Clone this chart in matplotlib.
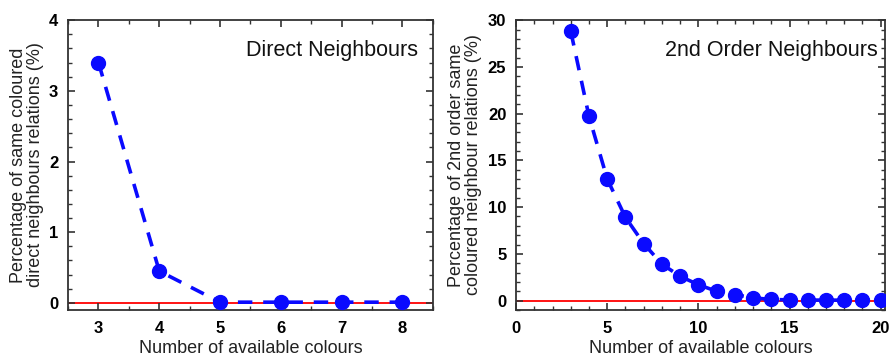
import matplotlib
matplotlib.use("Agg")
from matplotlib import pyplot as plt
from matplotlib.ticker import MultipleLocator

plt.rcParams['font.family'] = ['Liberation Sans', 'DejaVu Sans']

# direct neighbours
n_direct = [3, 4, 5, 6, 7, 8]
pct_direct = [3.40, 0.45, 0.01, 0.01, 0.01, 0.01]

# 2nd order neighbours
n_second = [3, 4, 5, 6, 7, 8, 9, 10, 11, 12, 13, 14, 15, 16, 17, 18, 19, 20]
pct_second = [28.8, 19.7, 13.0, 8.9, 6.1, 3.9, 2.6, 1.7, 1.0, 0.65, 0.3, 0.12,
              0.08, 0.06, 0.05, 0.05, 0.05, 0.05]

blue = '#0a0aff'

fig = plt.figure(figsize=(8.96, 3.6), dpi=100)
ax1 = fig.add_axes([0.076, 0.139, 0.407, 0.805])
ax2 = fig.add_axes([0.576, 0.139, 0.412, 0.805])


def style(ax):
    ax.tick_params(which='both', direction='in', top=True, right=True,
                   color='#333333', labelsize=12, pad=7)
    ax.tick_params(axis='x', which='both', pad=8)
    ax.tick_params(which='major', length=5, width=1.2)
    ax.tick_params(which='minor', length=3, width=1)
    for lab in ax.get_xticklabels() + ax.get_yticklabels():
        lab.set_fontweight('bold')
    for s in ax.spines.values():
        s.set_color('#333333')
        s.set_linewidth(1.3)
    ax.set_xlabel('Number of available colours', fontsize=13, color='#222222',
                  labelpad=3)


ax1.axhline(0, color='red', lw=1.3, zorder=1)
ax1.plot(n_direct, pct_direct, color=blue, lw=2.6, dashes=(4, 3),
         marker='o', ms=10, zorder=3)
ax1.set_xlim(2.5, 8.5)
ax1.set_ylim(-0.1, 4)
ax1.xaxis.set_major_locator(MultipleLocator(1))
ax1.xaxis.set_minor_locator(MultipleLocator(0.5))
ax1.yaxis.set_major_locator(MultipleLocator(1))
ax1.yaxis.set_minor_locator(MultipleLocator(0.2))
ax1.set_ylabel('Percentage of same coloured\ndirect neighbours relations (%)',
               fontsize=13, color='#222222', labelpad=4, linespacing=1.0)
ax1.text(0.96, 0.93, 'Direct Neighbours', transform=ax1.transAxes,
         ha='right', va='top', fontsize=15.5, color='#111111')
style(ax1)

ax2.axhline(0, color='red', lw=1.3, zorder=1)
ax2.plot(n_second, pct_second, color=blue, lw=2.6, dashes=(4, 3),
         marker='o', ms=10, zorder=3)
ax2.set_xlim(0, 20.25)
ax2.set_ylim(-1, 30)
ax2.xaxis.set_major_locator(MultipleLocator(5))
ax2.xaxis.set_minor_locator(MultipleLocator(1))
ax2.yaxis.set_major_locator(MultipleLocator(5))
ax2.yaxis.set_minor_locator(MultipleLocator(1))
ax2.set_ylabel('Percentage of 2nd order same\ncoloured neighbour relations (%)',
               fontsize=13, color='#222222', labelpad=4, linespacing=1.0)
ax2.text(0.98, 0.93, '2nd Order Neighbours', transform=ax2.transAxes,
         ha='right', va='top', fontsize=15.5, color='#111111')
style(ax2)

plt.savefig("out.png", dpi=100)
